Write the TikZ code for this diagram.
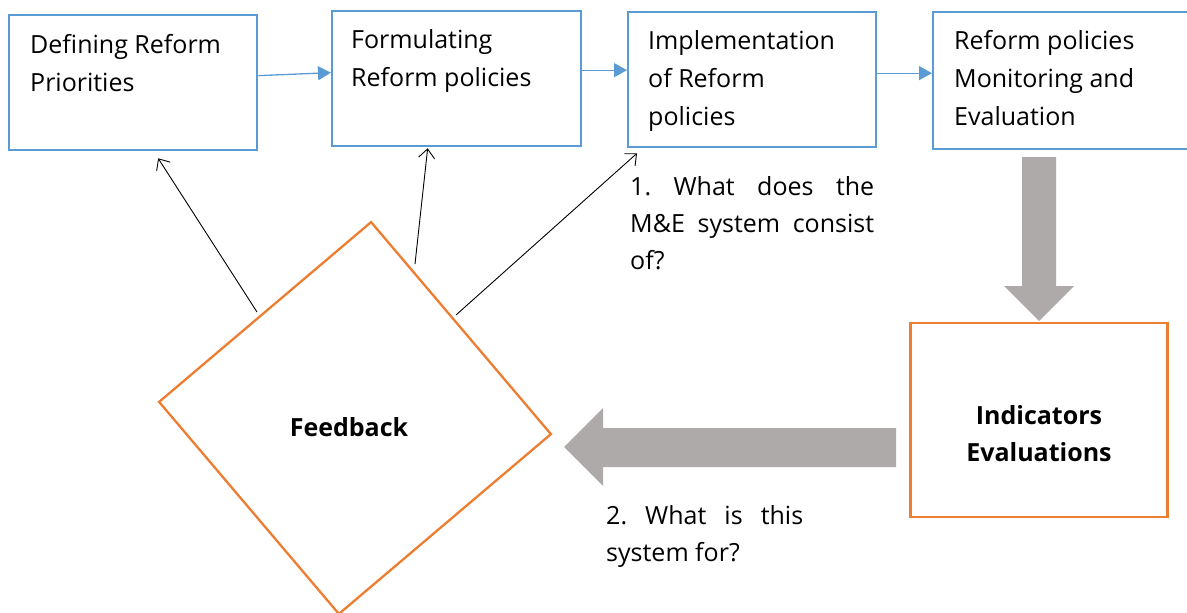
\documentclass[tikz,border=0pt]{standalone}
\usepackage{fontspec}
\setmainfont{Open Sans}
\usetikzlibrary{arrows.meta,calc,positioning}
\definecolor{boxblue}{HTML}{5B9BD5}
\definecolor{boxorange}{HTML}{ED7D31}
\definecolor{arrowgray}{HTML}{AEAAAA}

\begin{document}
\begin{tikzpicture}[x=1pt,y=-1pt,
  stage/.style={draw=boxblue, line width=2.3pt, anchor=north west, minimum width=248pt, minimum height=135pt, inner sep=0pt},
  stagetext/.style={align=left, inner sep=0pt, font=\fontsize{25}{38}\selectfont},
  question/.style={anchor=north west, align=justify, inner sep=0pt, font=\fontsize{25}{37}\selectfont\frenchspacing},
  flow/.style={-{Triangle[length=13pt,width=14pt]}, draw=boxblue, line width=1.3pt},
  fbarrow/.style={-{Straight Barb[length=9pt,width=16pt]}, line width=0.9pt},
  grayarrow/.style={fill=arrowgray}]
  \useasboundingbox (0,0) rectangle (1187,613);

  % the four stages
  \node[stage] (b1) at (8,14) {};
  \node[stage, minimum width=249pt] (b2) at (331,10) {};
  \node[stage] (b3) at (627,11) {};
  \node[stage, minimum width=262pt, minimum height=137pt] (b4) at (932,11) {};
  \node[stagetext, below right=20pt and 22pt of b1.north west] (t1) {Defining Reform\\Priorities};
  \node[stagetext, below right=19pt and 20pt of b2.north west] (t2) {Formulating\\Reform policies};
  \node[stagetext, below right=19pt and 21pt of b3.north west] (t3) {Implementation\\of Reform\\policies};
  \node[stagetext, below right=19pt and 22pt of b4.north west] (t4) {Reform policies\\Monitoring and\\Evaluation};

  \draw[flow] ([yshift=7pt]b1.east) -- ([yshift=6pt]b2.west);
  \draw[flow] ([yshift=8.5pt]b2.east) -- ([yshift=9.5pt]b3.west);
  \draw[flow] ([yshift=6.5pt]b3.east) -- ([yshift=7.5pt]b4.west);

  % indicators and feedback
  \node[draw=boxorange, line width=2.3pt, minimum width=257pt, minimum height=194pt] (ind) at (1039,420) {};
  \node[font=\fontsize{25}{37}\selectfont\bfseries, align=center] (indtxt) at (1039,434) {Indicators\\Evaluations};
  \node[draw=boxorange, line width=2.3pt, minimum size=278pt, rotate=40.3, inner sep=0pt] (fb) at (355,418) {};
  \node[font=\fontsize{25}{30}\selectfont\bfseries] (fbtxt) at (349,427) {Feedback};

  \fill[grayarrow] (1022,157) -- (1056,157) -- (1056,286) -- (1074,286) -- (1039,321)
    -- (1004,286) -- (1022,286) -- cycle;
  \fill[grayarrow] (896,428) -- (603,428) -- (603,408) -- (564,447) -- (603,486)
    -- (603,467) -- (896,467) -- cycle;

  % feedback arrows
  \coordinate (f1) at (257,312);
  \coordinate (f2) at (415,264);
  \coordinate (f3) at (456,315);
  \draw[fbarrow] (f1) -- ($(b1.south)+(25,7)$);
  \draw[fbarrow] (f2) -- ($(b2.south)+(-29,1)$);
  \draw[fbarrow] (f3) -- ($(b3.south west)+(10,5)$);

  % questions
  \node[question, text width=244pt] (q1) at (630,176) {1. What does the\linebreak M\&E system consist\linebreak of?};
  \node[question, text width=197pt] (q2) at (606,505) {2. What is this\linebreak system for?};
\end{tikzpicture}
\end{document}
